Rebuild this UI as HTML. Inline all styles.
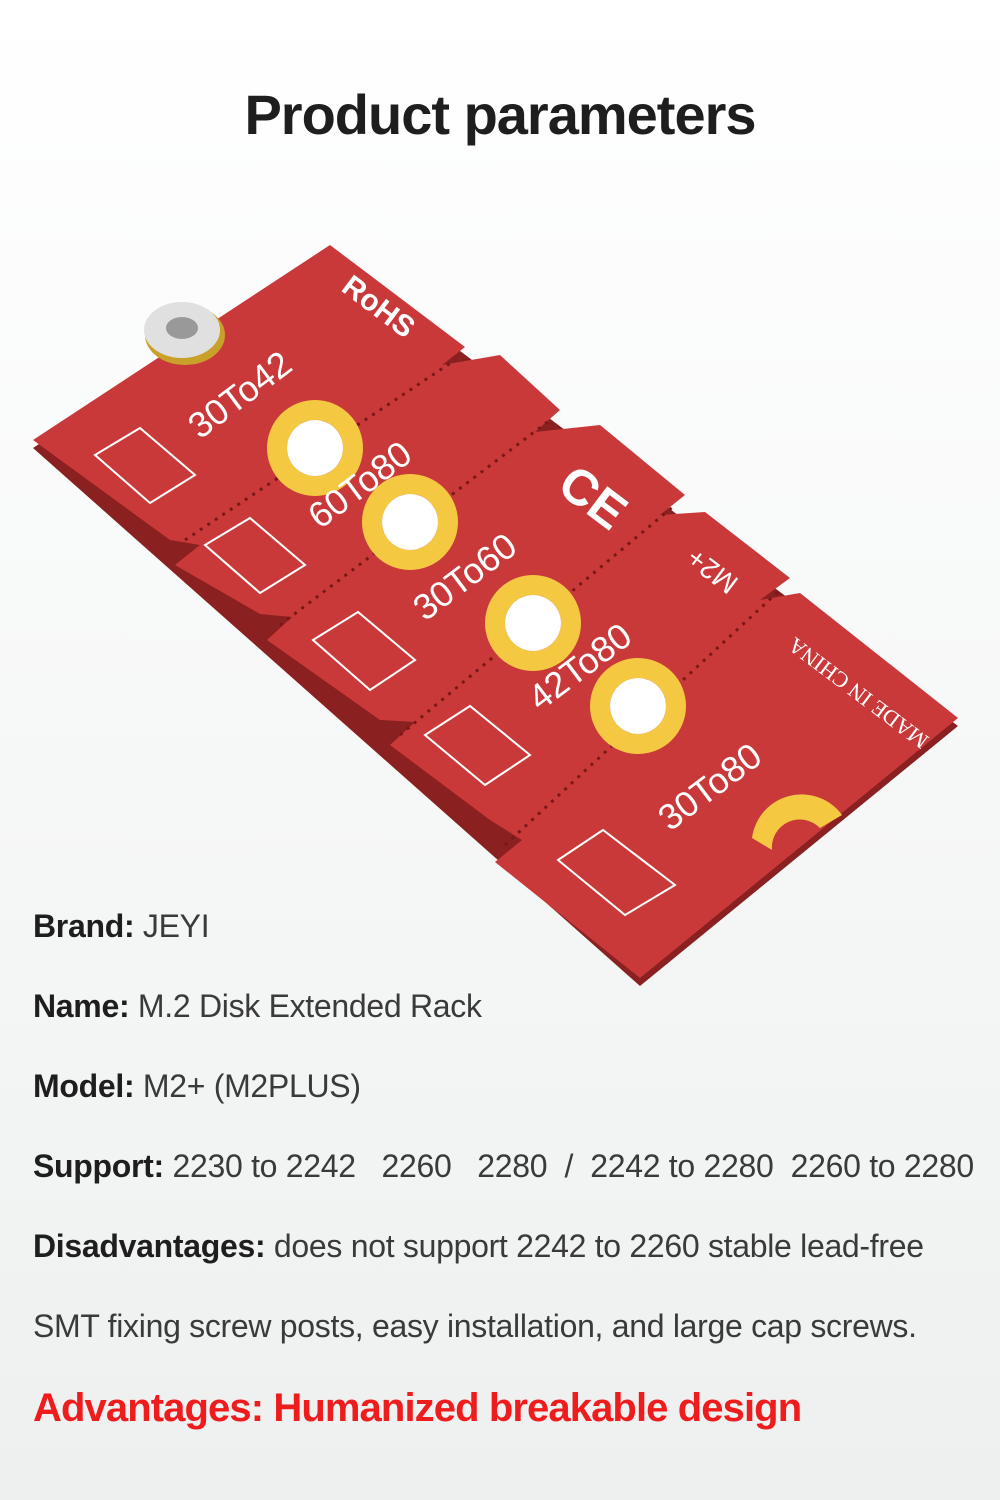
<!DOCTYPE html>
<html><head><meta charset="utf-8"><style>
html,body{margin:0;padding:0}
body{width:1000px;height:1500px;background:linear-gradient(#ffffff,#eef0f0);font-family:"Liberation Sans",sans-serif;position:relative;overflow:hidden}
h1{position:absolute;top:82px;left:0;width:1000px;text-align:center;margin:0;font-size:56px;font-weight:bold;color:#1e1e1e;letter-spacing:-1px}
.l{position:absolute;left:33px;font-size:32px;color:#3a3a3a;white-space:nowrap;letter-spacing:-0.3px}
.l b{color:#1e1e1e}
.adv{position:absolute;left:33px;top:1386px;font-size:40px;font-weight:bold;color:#ee1c1c;letter-spacing:-0.9px}
svg{position:absolute;left:0;top:0}
</style></head><body>
<h1>Product parameters</h1>
<svg width="1000" height="1000" viewBox="0 0 1000 1000">
<polygon points="33,448 330,253 958,726 640,986" fill="#8a2020"/>
<polygon points="33,440 330,245 465,347 442,365 500,355 560,410 535,432 600,425 685,495 660,515 705,512 790,578 760,600 800,593 958,718 640,978 495,862 522,840 490,820 390,745 415,722 380,720 267,640 292,617 260,614 175,565 200,545 170,540" fill="#c9393a"/>
<g stroke="#7a1818" stroke-width="3" stroke-dasharray="3 6" fill="none">
<line x1="185" y1="540" x2="455" y2="360"/>
<line x1="280" y1="625" x2="550" y2="420"/>
<line x1="400" y1="735" x2="675" y2="505"/>
<line x1="505" y1="845" x2="780" y2="590"/>
</g>
<g fill="none" stroke="#f5c842" stroke-width="20">
<circle cx="315" cy="448" r="38"/><circle cx="410" cy="522" r="38"/><circle cx="533" cy="623" r="38"/><circle cx="638" cy="706" r="38"/>
</g>
<g fill="#fff"><circle cx="315" cy="448" r="28"/><circle cx="410" cy="522" r="28"/><circle cx="533" cy="623" r="28"/><circle cx="638" cy="706" r="28"/></g>
<path d="M752,838 A50,50 0 0 1 842,815 L820,828 A28,28 0 0 0 772,850 Z" fill="#f5c842"/>
<ellipse cx="185" cy="335" rx="40" ry="30" fill="#c9a12a"/>
<ellipse cx="182" cy="330" rx="38" ry="28" fill="#e0e0e0"/>
<ellipse cx="182" cy="328" rx="16" ry="11" fill="#999"/>
<g fill="#fff" font-family="Liberation Sans,sans-serif" font-size="36">
<text transform="translate(200,440) rotate(-37)">30To42</text>
<text transform="translate(320,530) rotate(-37)">60To80</text>
<text transform="translate(425,622) rotate(-37)">30To60</text>
<text transform="translate(540,712) rotate(-37)">42To80</text>
<text transform="translate(670,832) rotate(-37)">30To80</text>
<text transform="translate(340,290) rotate(37)" font-weight="bold" font-size="30">RoHS</text>
<text transform="translate(740,580) rotate(217)" font-size="28">M2+</text>
<text transform="translate(930,738) rotate(217)" font-size="22" font-family="Liberation Serif,serif">MADE IN CHINA</text>
<text transform="translate(555,490) rotate(37)" font-weight="bold" font-size="50">CE</text>
</g>
<g stroke="#fff" stroke-width="2" fill="none">
<polygon points="95,455 140,428 195,475 150,503"/>
<polygon points="205,545 250,518 305,565 260,593"/>
<polygon points="313,640 358,612 415,660 370,690"/>
<polygon points="425,735 470,706 530,755 485,785"/>
<polygon points="558,860 603,830 675,885 625,915"/>
</g>
</svg>
<div class="l" style="top:908px"><b>Brand:</b> JEYI</div>
<div class="l" style="top:988px"><b>Name:</b> M.2 Disk Extended Rack</div>
<div class="l" style="top:1068px"><b>Model:</b> M2+ (M2PLUS)</div>
<div class="l" style="top:1148px"><b>Support:</b> 2230 to 2242 &nbsp; 2260 &nbsp; 2280 &nbsp;/ &nbsp;2242 to 2280 &nbsp;2260 to 2280</div>
<div class="l" style="top:1228px"><b>Disadvantages:</b> does not support 2242 to 2260 stable lead-free</div>
<div class="l" style="top:1308px">SMT fixing screw posts, easy installation, and large cap screws.</div>
<div class="adv">Advantages: Humanized breakable design</div>
</body></html>
